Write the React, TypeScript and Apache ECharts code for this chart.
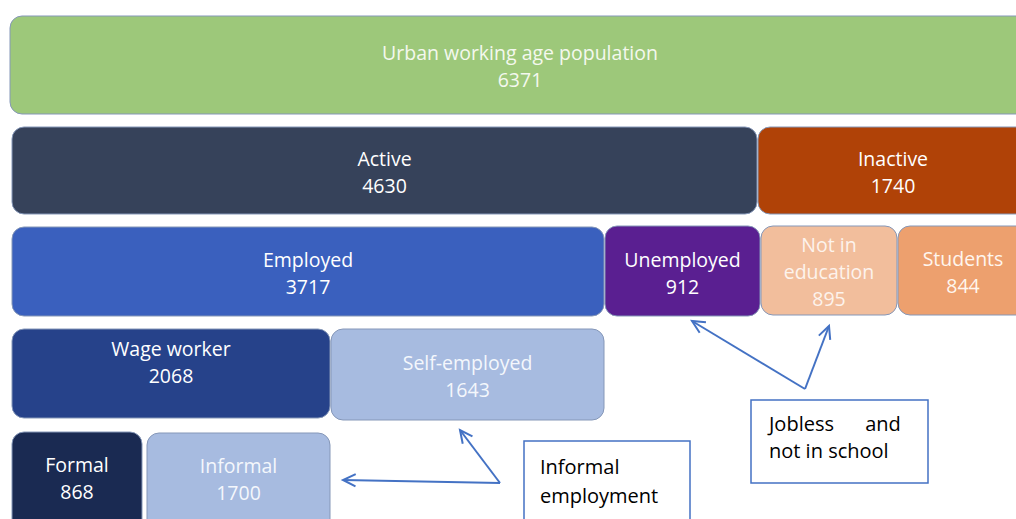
import React, { useEffect, useRef } from "react";
import * as echarts from "echarts";

const boxLabels = [
  "Urban working age population",
  "Active",
  "Inactive",
  "Employed",
  "Unemployed",
  "Not in\neducation",
  "Students",
  "Wage worker",
  "Self-employed",
  "Formal",
  "Informal",
];
const boxValues = [6371, 4630, 1740, 3717, 912, 895, 844, 2068, 1643, 868, 1700];
const noteTexts = ["Informal\nemployment", "Jobless      and\nnot in school"];

// layout: [x, y, w, h, textCenterY, fill, textColor]
const layout: [number, number, number, number, number, string, string][] = [
  [10, 16, 1020, 98, 66, "#9DC87A", "#F4F8EE"],
  [12, 127, 745, 87, 172, "#36425A", "#FFFFFF"],
  [758, 127, 270, 87, 172, "#B04207", "#FFFFFF"],
  [12, 227, 592, 89, 273, "#3A60BE", "#FFFFFF"],
  [605, 226, 155, 90, 273, "#5A1F91", "#FFFFFF"],
  [761, 226, 136, 89, 271, "#F2BE9C", "#FDF3EC"],
  [898, 226, 130, 89, 272, "#EDA06E", "#FFF6EE"],
  [12, 329, 318, 89, 362, "#26428A", "#FFFFFF"],
  [331, 329, 273, 91, 376, "#A7BBE0", "#F4F7FC"],
  [12, 432, 130, 100, 478, "#1A2A52", "#FFFFFF"],
  [147, 433, 183, 100, 479, "#A7BBE0", "#F4F7FC"],
];

const ARROW = "#4472C4";

function arrow(x1: number, y1: number, x2: number, y2: number): any[] {
  const ang = Math.atan2(y2 - y1, x2 - x1);
  const L = 14, a = 0.45;
  const p1 = [x2 - L * Math.cos(ang - a), y2 - L * Math.sin(ang - a)];
  const p2 = [x2 - L * Math.cos(ang + a), y2 - L * Math.sin(ang + a)];
  return [
    { type: "line", shape: { x1, y1, x2, y2 }, style: { stroke: ARROW, lineWidth: 2 } },
    { type: "polyline", shape: { points: [p1, [x2, y2], p2] }, style: { stroke: ARROW, lineWidth: 2, fill: null } },
  ];
}

export default function App() {
  const ref = useRef<HTMLDivElement>(null);
  useEffect(() => {
    if (!ref.current) return;
    const chart = echarts.init(ref.current, null, { renderer: "svg" });
    const elements: any[] = [];
    boxLabels.forEach((lab, i) => {
      const [x, y, w, h, ty, fill, tc] = layout[i];
      elements.push({
        type: "rect",
        shape: { x, y, width: w, height: h, r: 12 },
        style: { fill, stroke: "#8597B8", lineWidth: 1 },
      });
      elements.push({
        type: "text",
        x: x + w / 2,
        y: ty,
        style: {
          text: lab + "\n" + boxValues[i],
          fill: tc,
          fontSize: 19.5,
          fontFamily: "Open Sans",
          lineHeight: 27,
          align: "center",
          verticalAlign: "middle",
        },
      });
    });
    // note boxes
    elements.push({
      type: "rect",
      shape: { x: 524, y: 441, width: 166, height: 100 },
      style: { fill: "#FFFFFF", stroke: ARROW, lineWidth: 1.5 },
    });
    elements.push({
      type: "text",
      x: 540,
      y: 452,
      style: { text: noteTexts[0], fill: "#000000", fontSize: 20, fontFamily: "Open Sans", lineHeight: 29, align: "left", verticalAlign: "top" },
    });
    elements.push({
      type: "rect",
      shape: { x: 751, y: 400, width: 177, height: 83 },
      style: { fill: "#FFFFFF", stroke: ARROW, lineWidth: 1.5 },
    });
    elements.push({
      type: "text",
      x: 769,
      y: 410,
      style: { text: noteTexts[1], fill: "#000000", fontSize: 20, fontFamily: "Open Sans", lineHeight: 27, align: "left", verticalAlign: "top" },
    });
    elements.push(...arrow(500, 483, 343, 480));
    elements.push(...arrow(500, 483, 460, 430));
    elements.push(...arrow(805, 389, 692, 321));
    elements.push(...arrow(805, 389, 829, 326));

    chart.setOption({
      animation: false,
      graphic: { elements },
    });
    return () => chart.dispose();
  }, []);
  return <div ref={ref} style={{ width: 1016, height: 519, position: "absolute", left: 0, top: 0 }} />;
}
